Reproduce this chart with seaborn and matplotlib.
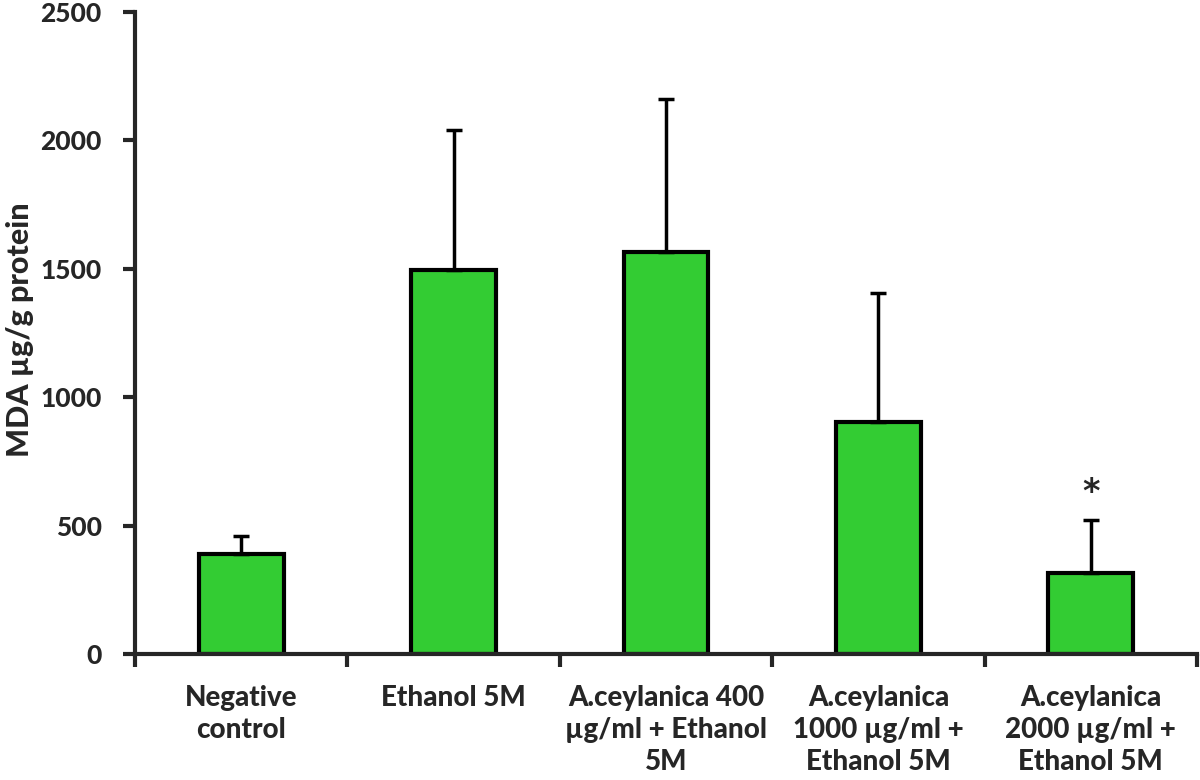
import matplotlib
matplotlib.use("Agg")
import matplotlib.pyplot as plt
import seaborn as sns
import numpy as np

# Data
groups = ["Negative\ncontrol", "Ethanol 5M", "A.ceylanica 400\nµg/ml + Ethanol\n5M",
          "A.ceylanica\n1000 µg/ml +\nEthanol 5M", "A.ceylanica\n2000 µg/ml +\nEthanol 5M"]
mda = [390, 1495, 1565, 905, 315]
sd_upper = [70, 545, 595, 500, 205]
stars = ["", "", "", "", "*"]

sns.set_style("ticks")
plt.rcParams["font.family"] = ["Lato", "DejaVu Sans"]
W = "black"

fig = plt.figure(figsize=(12, 7.8), dpi=100)
ax = fig.add_axes([0.1125, 0.1615, 0.885, 0.8235])

sns.barplot(x=groups, y=mda, color="#33CC33", width=0.4, edgecolor="black",
            linewidth=3, saturation=1, ax=ax)

pos = np.arange(len(groups))
ax.errorbar(pos, mda, yerr=[np.zeros(len(mda)), sd_upper], fmt="none",
            ecolor="black", elinewidth=2.5, capsize=6, capthick=2.5, zorder=1)

for p, m, e, s in zip(pos, mda, sd_upper, stars):
    if s:
        ax.text(p, m + e + 45, s, ha="center", va="bottom", fontsize=24,
                fontweight="bold", family="DejaVu Sans")

ax.set_xlim(-0.5, len(groups) - 0.5)
ax.set_ylim(0, 2500)
ax.set_yticks([0, 500, 1000, 1500, 2000, 2500])
ax.set_ylabel("MDA µg/g protein", fontsize=22, fontweight=W)
ax.yaxis.set_label_coords(-0.108, 0.505)
ax.yaxis.label.set_va("center")

# category ticks sit between bars, labels centred under bars
ax.set_xticks(pos)
ax.set_xticks(np.arange(-0.5, len(groups)), minor=True)
ax.tick_params(axis="x", which="major", length=0, pad=22, labelsize=20)
ax.tick_params(axis="x", which="minor", length=9, width=3, direction="out")
ax.tick_params(axis="y", length=9, width=3, direction="out", labelsize=19, pad=15)
for lab in ax.get_xticklabels() + ax.get_yticklabels():
    lab.set_fontweight(W)
for lab in ax.get_xticklabels():
    lab.set_linespacing(1.3)

sns.despine(ax=ax)
ax.spines["left"].set_linewidth(3)
ax.spines["bottom"].set_linewidth(3)

fig.savefig("out.png", dpi=100)
